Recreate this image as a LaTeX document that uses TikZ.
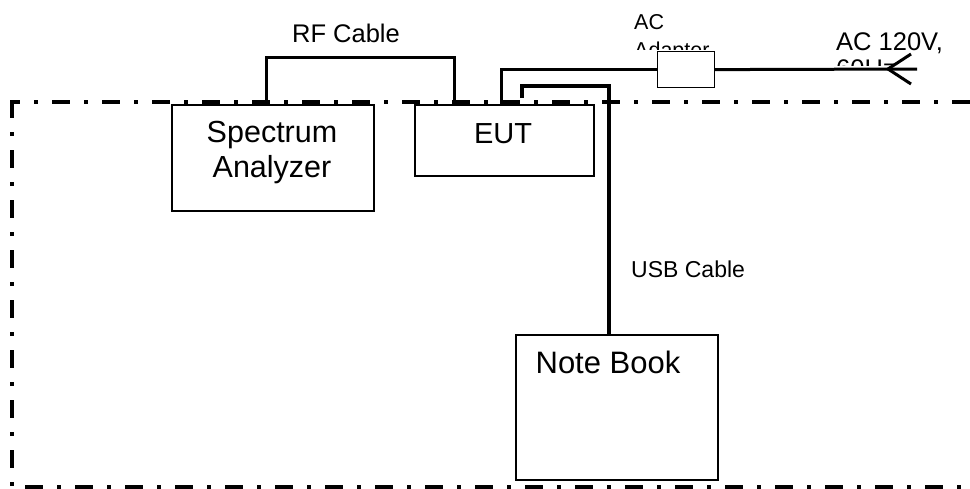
\documentclass[tikz,border=0pt]{standalone}
\usepackage{fontspec}
\setmainfont{Liberation Sans}
\begin{document}
\begin{tikzpicture}[x=1pt,y=-1pt,
  border/.style={line width=4pt,dash pattern=on 18pt off 14pt on 4pt off 14pt},
  box/.style={draw,line width=1.5pt,fill=white,inner sep=0pt,anchor=north west},
  cable/.style={line width=3pt},
  usbcable/.style={line width=4pt},
  txt/.style={inner sep=0pt,anchor=base},
  txtw/.style={inner sep=0pt,anchor=base west},
]
\useasboundingbox (0,0) rectangle (970,488);
% enclosure border
\draw[border,dash phase=10pt] (12,102) -- (975,102);
\draw[border] (12,100) -- (12,490);
\draw[border,dash phase=37pt] (12,486.5) -- (975,486.5);
% boxes
\node[box,minimum width=202pt,minimum height=106pt] (sa) at (171,104) {};
\node[box,minimum width=179pt,minimum height=71pt] (eut) at (414,104) {};
\node[box,minimum width=202pt,minimum height=145pt] (nb) at (515,334) {};
\node[box,line width=1.2pt,minimum width=57pt,minimum height=36pt] (adapter) at (657,51) {};
% texts
\node[txt,font=\fontsize{30.5pt}{35pt}\selectfont] (t1) at (272,142) {Spectrum};
\node[txt,font=\fontsize{30.5pt}{35pt}\selectfont] (t2) at (272,177) {Analyzer};
\node[txt,font=\fontsize{29pt}{33pt}\selectfont] (t3) at (503,143) {EUT};
\node[txt,font=\fontsize{31pt}{35pt}\selectfont] (t4) at (608,373) {Note Book};
\node[txt,font=\fontsize{25.5pt}{29pt}\selectfont] (t5) at (346,42) {RF Cable};
\node[txtw,font=\fontsize{23pt}{27pt}\selectfont] (t6) at (631,277) {USB Cable};
\node[txtw,font=\fontsize{21.5pt}{25pt}\selectfont] (t7) at (634,29) {AC};
\begin{scope}
  \clip (620,0) rectangle (740,49);
  \node[txtw,font=\fontsize{21.5pt}{25pt}\selectfont] (t8) at (634,57) {Adapter};
\end{scope}
\node[txtw,font=\fontsize{25.5pt}{29pt}\selectfont] (t9) at (836,50) {AC 120V,};
\begin{scope}
  \clip (820,52) rectangle (970,65);
  \node[txtw,font=\fontsize{25.5pt}{29pt}\selectfont] (t10) at (836,77) {60Hz};
\end{scope}
% cables
\draw[cable] ([xshift=95pt]sa.north west) -- ++(0,-47) -| ([xshift=40pt]eut.north west);
\draw[cable] ([xshift=87pt]eut.north west) |- (adapter.west);
\coordinate (plugend) at (917,69);
\coordinate (plug) at (888,69);
\draw[cable] (adapter.east) -- (plugend);
\draw[cable] ([shift={(23,-15)}]plug) -- (plug) -- ([shift={(23,15)}]plug);
\draw[usbcable] ([xshift=108pt]eut.north west) ++(0,-6) -- ++(0,-12) -| ([xshift=94pt]nb.north west);
\end{tikzpicture}
\end{document}
